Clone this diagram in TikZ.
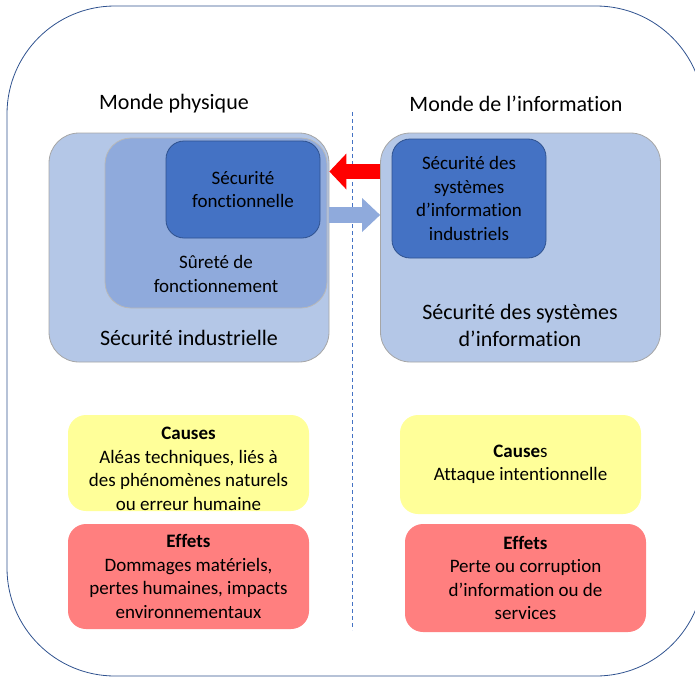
\documentclass[tikz,border=0pt]{standalone}
\usepackage{fontspec}
\setmainfont{Carlito}[Ligatures=NoCommon]
\usetikzlibrary{arrows.meta}
\definecolor{frameblue}{HTML}{2F528F}
\definecolor{paleblue}{HTML}{B4C7E7}
\definecolor{midblue}{HTML}{8FAADC}
\definecolor{deepblue}{HTML}{4472C4}
\definecolor{causeyellow}{HTML}{FFFF99}
\definecolor{effetred}{HTML}{FF7F7F}
\definecolor{boxgray}{HTML}{A6A6A6}

\begin{document}
\begin{tikzpicture}[
    x=1pt, y=-1pt,
    txt/.style={font=\fontsize{19}{23.5}\selectfont, align=center, inner sep=0pt},
    bigtxt/.style={font=\fontsize{22}{27}\selectfont, align=center, inner sep=0pt},
    bigbox/.style={rectangle, draw=boxgray, fill=paleblue, line width=0.8pt, rounded corners=30pt, minimum width=280pt, minimum height=229pt},
    midbox/.style={rectangle, draw=boxgray!80, fill=midblue, line width=0.8pt, rounded corners=26pt, minimum width=222pt, minimum height=170pt},
    innerbox/.style={rectangle, draw=frameblue, fill=deepblue, line width=0.8pt, rounded corners=18pt, minimum width=154pt, txt},
    causebox/.style={rectangle, fill=causeyellow, rounded corners=18pt, minimum width=241pt, txt},
    effetbox/.style={rectangle, fill=effetred, rounded corners=18pt, minimum width=241pt, txt},
    redarrow/.style={line width=15pt, red, -{Triangle[length=17pt, width=36pt, line width=0pt]}},
    bluearrow/.style={line width=16pt, midblue, -{Triangle[length=18pt, width=34pt, line width=0pt]}}
]
\clip (0,0) rectangle (695,677);
\useasboundingbox (0,0) rectangle (695,677);
% Frame and divider
\draw[frameblue, line width=0.8pt, rounded corners=108pt] (7,6) rectangle (704,676);
\draw[deepblue, dashed, line width=0.6pt, dash pattern=on 4pt off 3pt] (352,112) -- (352,630);
% Titles
\node[bigtxt] (physique) at (174,104) {Monde physique};
\node[bigtxt] (information) at (516,104) {Monde de l’information};
% Physical side
\node[bigbox] (si) at (189,247.5) {};
\node[midbox] (sdf) at (216,223) {};
\node[innerbox, minimum height=97pt] (sf) at (243,189.5) {Sécurité\\fonctionnelle};
\node[txt] (sdftxt) at (216,274) {Sûreté de\\fonctionnement};
\node[bigtxt] (sitxt) at (189,338) {Sécurité industrielle};
% Information side
\node[bigbox] (ssi) at (520.5,247.5) {};
\node[innerbox, minimum height=119pt] (ssii) at (469,198.5) {Sécurité des\\systèmes\\d’information\\industriels};
\node[bigtxt] (ssitxt) at (520,325) {Sécurité des systèmes\\d’information};
% Arrows
\draw[redarrow] ([yshift=76pt]ssi.west) -- ([yshift=76pt]si.east);
\draw[bluearrow] ([yshift=32.5pt]si.east) -- ([yshift=32.5pt]ssi.west);
% Causes and effects
\node[causebox, minimum height=96pt] (causes1) at (188.5,463) {\rule{0pt}{24pt}\textbf{Causes}\\Aléas techniques, liés à\\des phénomènes naturels\\ou erreur humaine};
\node[effetbox, minimum height=105pt] (effets1) at (188.5,576.5) {\textbf{Effets}\\Dommages matériels,\\pertes humaines, impacts\\environnementaux};
\node[causebox, minimum height=99pt] (causes2) at (520.5,464.5) {\textbf{Cause}s\\Attaque intentionnelle};
\node[effetbox, minimum height=108pt] (effets2) at (525.5,578) {\textbf{Effets}\\Perte ou corruption\\d’information ou de\\services};
\end{tikzpicture}
\end{document}
